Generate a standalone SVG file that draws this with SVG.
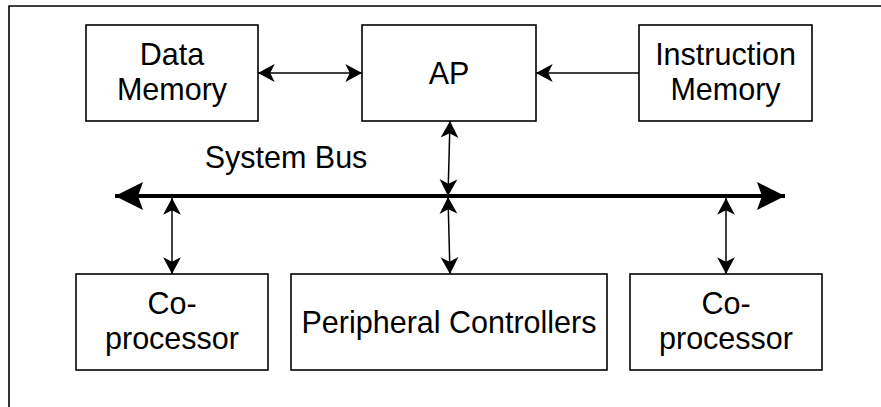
<svg xmlns="http://www.w3.org/2000/svg" width="881" height="407" viewBox="0 0 881 407">
  <defs>
    <style>
      .box { fill: #ffffff; stroke: #000000; stroke-width: 1.6; }
      .lbl { font-family: "Liberation Sans", Arial, Helvetica, sans-serif; font-size: 30.5px; fill: #000000; text-anchor: middle; }
      .conn { stroke: #000000; stroke-width: 1.5; fill: none; }
      .bus { stroke: #000000; stroke-width: 4; fill: none; }
      .frame { stroke: #000000; stroke-width: 1.6; fill: none; }
    </style>
    <marker id="arr" markerUnits="userSpaceOnUse" markerWidth="20" markerHeight="20" viewBox="-16 -9 17 18" refX="0" refY="0" orient="auto-start-reverse">
      <path d="M0,0 L-15,-8 L-11,0 L-15,8 Z" fill="#000000"/>
    </marker>
    <marker id="busarr" markerUnits="userSpaceOnUse" markerWidth="32" markerHeight="32" viewBox="-30 -16 31 32" refX="0" refY="0" orient="auto-start-reverse">
      <path d="M0,0 L-28,-14 L-23,0 L-28,14 Z" fill="#000000"/>
    </marker>
  </defs>

  <rect x="0" y="0" width="881" height="407" fill="#ffffff"/>
  <path class="frame" d="M9,407 L9,6 L881,6"/>

  <g id="data-memory">
    <rect class="box" x="86" y="25" width="172" height="96"/>
    <text class="lbl" x="172" y="65">Data</text>
    <text class="lbl" x="172" y="100">Memory</text>
  </g>
  <g id="ap">
    <rect class="box" x="362" y="25" width="174" height="96"/>
    <text class="lbl" x="449" y="84">AP</text>
  </g>
  <g id="instruction-memory">
    <rect class="box" x="639" y="25" width="173" height="96"/>
    <text class="lbl" x="725.5" y="65">Instruction</text>
    <text class="lbl" x="725.5" y="100">Memory</text>
  </g>
  <g id="system-bus-label">
    <text class="lbl" x="286" y="168">System Bus</text>
  </g>
  <g id="coprocessor-left">
    <rect class="box" x="76" y="274" width="192" height="96"/>
    <text class="lbl" x="172" y="314">Co-</text>
    <text class="lbl" x="172" y="349">processor</text>
  </g>
  <g id="peripheral-controllers">
    <rect class="box" x="291" y="274" width="316" height="96"/>
    <text class="lbl" x="449" y="333">Peripheral Controllers</text>
  </g>
  <g id="coprocessor-right">
    <rect class="box" x="630" y="274" width="192" height="96"/>
    <text class="lbl" x="726" y="314">Co-</text>
    <text class="lbl" x="726" y="349">processor</text>
  </g>

  <g id="connectors">
    <line class="bus" x1="115" y1="196" x2="785" y2="196" marker-start="url(#busarr)" marker-end="url(#busarr)"/>
    <line class="conn" x1="258" y1="73" x2="362" y2="73" marker-start="url(#arr)" marker-end="url(#arr)"/>
    <line class="conn" x1="639" y1="73" x2="536" y2="73" marker-end="url(#arr)"/>
    <line class="conn" x1="450" y1="121" x2="448" y2="196" marker-start="url(#arr)" marker-end="url(#arr)"/>
    <line class="conn" x1="448" y1="197" x2="450" y2="274" marker-start="url(#arr)" marker-end="url(#arr)"/>
    <line class="conn" x1="172" y1="198" x2="172" y2="274" marker-start="url(#arr)" marker-end="url(#arr)"/>
    <line class="conn" x1="726" y1="198" x2="726" y2="274" marker-start="url(#arr)" marker-end="url(#arr)"/>
  </g>
</svg>
